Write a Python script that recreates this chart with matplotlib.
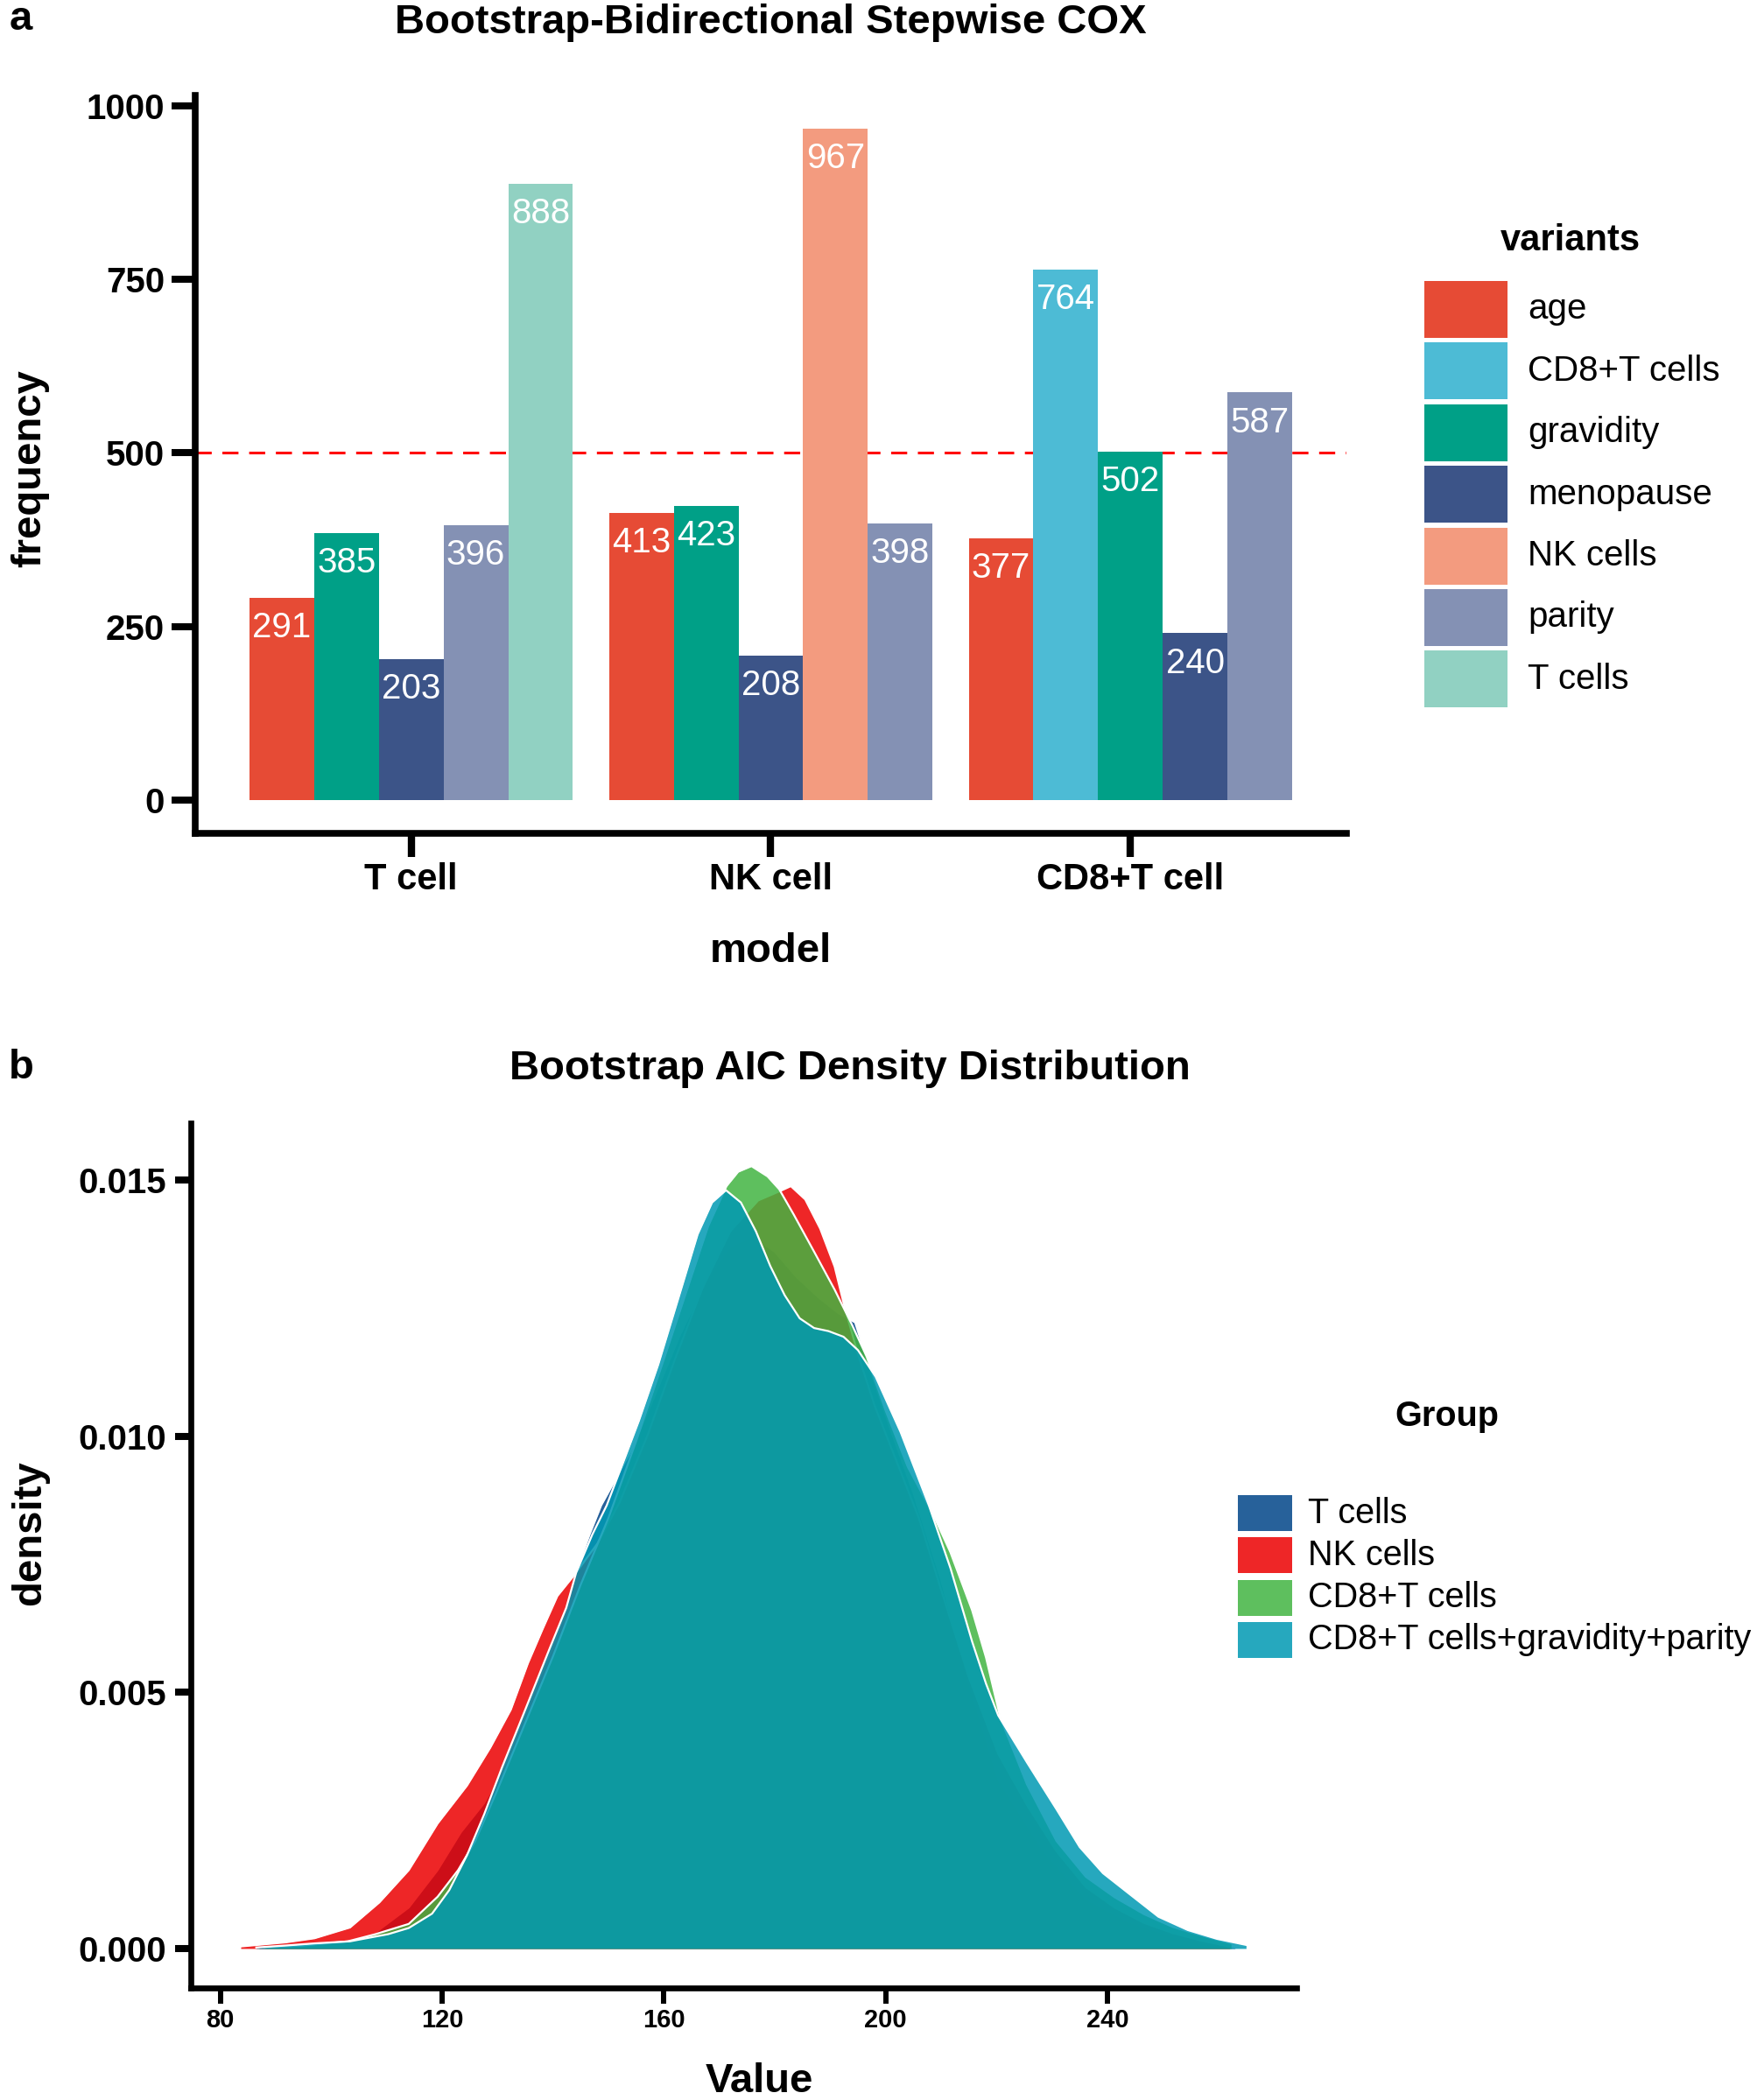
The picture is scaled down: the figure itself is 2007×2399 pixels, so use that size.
import matplotlib
matplotlib.use("Agg")
import matplotlib.pyplot as plt
from matplotlib.patches import Rectangle

plt.rcParams["font.family"] = ["Liberation Sans", "DejaVu Sans"]

W, H = 2008, 2399


def fx(px):
    return px / W


def fy(py):
    return 1 - py / H


# ---------------- panel a data
models = ["T cell", "NK cell", "CD8+T cell"]
variants = ["age", "CD8+T cells", "gravidity", "menopause", "NK cells", "parity", "T cells"]
variant_colors = ["#E64B35", "#4DBBD5", "#00A087", "#3C5488", "#F39B7F", "#8491B4", "#91D1C2"]

tcell_variants = ["age", "gravidity", "menopause", "parity", "T cells"]
tcell_freq = [291, 385, 203, 396, 888]
nkcell_variants = ["age", "gravidity", "menopause", "NK cells", "parity"]
nkcell_freq = [413, 423, 208, 967, 398]
cd8_variants = ["age", "CD8+T cells", "gravidity", "menopause", "parity"]
cd8_freq = [377, 764, 502, 240, 587]
threshold = 500

# ---------------- panel b data (density curves)
groups = ["T cells", "NK cells", "CD8+T cells", "CD8+T cells+gravidity+parity"]
group_colors = ["#014589", "#EB0001", "#42B442", "#0099B3"]

tc_x = [87, 95, 102, 107.6, 114.0, 119.2, 123.4, 127.6, 131, 135, 139.2, 142.4, 144.3, 146.6,
        148.7, 151, 154, 158, 163, 168, 172, 176, 180, 184, 188, 191.5, 194.5, 197.5, 201, 205,
        210, 215, 220.3, 228.2, 236.1, 244, 251.8, 258, 263]
tc_y = [0.00002, 0.00006, 0.00012, 0.00028, 0.0008, 0.00153, 0.00227, 0.00284, 0.0035, 0.0046,
        0.0057, 0.0066, 0.0074, 0.00808, 0.00865, 0.0091, 0.0097, 0.0107, 0.0120, 0.0131, 0.0137,
        0.0139, 0.0136, 0.0131, 0.0127, 0.0124, 0.01222, 0.0112, 0.0101, 0.0089, 0.0072, 0.0052,
        0.0033, 0.00194, 0.00097, 0.00051, 0.00023, 0.00008, 0.00002]

nk_x = [83.7, 91.8, 97.0, 103.4, 108.7, 114.0, 119.2, 124.5, 128.7, 132.4, 135.5, 138.2, 140.8,
        144.0, 148, 152, 157, 162, 167, 172, 177, 181.3, 182.9, 185.5, 188.2, 190.8, 192.6, 195,
        198, 202, 206, 210, 215, 220.3, 225.5, 230.8, 236.1, 241.3, 246.6, 251.8, 257.1, 262]
nk_y = [0.00004, 0.00012, 0.0002, 0.00041, 0.0009, 0.00153, 0.00244, 0.00318, 0.00392, 0.00466,
        0.00557, 0.00625, 0.00688, 0.00731, 0.0079, 0.0087, 0.0100, 0.0115, 0.0129, 0.0140, 0.0146,
        0.0148, 0.01488, 0.01462, 0.01405, 0.01331, 0.01252, 0.0116, 0.0106, 0.0095, 0.0084,
        0.0070, 0.0053, 0.0038, 0.0028, 0.0019, 0.0012, 0.0008, 0.0005, 0.0003, 0.00015, 0.00004]

cd8_x = [88, 95, 103, 108, 114.0, 119.2, 122.9, 126, 130, 135, 140, 145, 150, 155, 160, 164, 168,
         171.3, 173.4, 175.8, 178.7, 180.8, 183.4, 187.1, 190.8, 193.9, 196.6, 200, 204, 208.5,
         211.7, 215.6, 218.1, 220.7, 225.5, 230.8, 236.1, 241.3, 246.6, 251.8, 257.1, 262.3]
cd8_y = [0.00002, 0.00006, 0.00014, 0.00028, 0.00048, 0.00101, 0.00153, 0.0021, 0.0031, 0.0044,
         0.0057, 0.0071, 0.0084, 0.0099, 0.0115, 0.0128, 0.0141, 0.01488, 0.01516, 0.01527,
         0.01507, 0.01482, 0.01433, 0.0136, 0.01286, 0.01218, 0.01155, 0.0105, 0.0094, 0.00849,
         0.00773, 0.0066, 0.00568, 0.0045, 0.0032, 0.0021, 0.0014, 0.001, 0.00067, 0.00042,
         0.00025, 0.0001]

combo_x = [86.5, 92.0, 97.0, 103.4, 110.3, 114.0, 118.2, 121.3, 124.5, 127.6, 130.8, 135.0, 139.2,
           142.4, 144.2, 147.1, 149.7, 152.0, 155.5, 159.0, 163.4, 166.1, 168.7, 171.2, 173.9,
           176.6, 179.2, 181.8, 184.5, 187.1, 189.7, 192.4, 195.0, 198.2, 202.7, 207.8, 211.7,
           215.6, 218.1, 220.3, 225.5, 230.8, 235.0, 239.2, 243.9, 249.2, 254.5, 259.7, 265.0]
combo_y = [0.00002, 0.00006, 0.0001, 0.00014, 0.00028, 0.0004, 0.00068, 0.00114, 0.00182, 0.00262,
           0.00353, 0.00466, 0.0058, 0.00665, 0.00734, 0.00808, 0.00865, 0.0093, 0.0103, 0.0114,
           0.01297, 0.01394, 0.01456, 0.0148, 0.01456, 0.014, 0.01332, 0.01275, 0.0123, 0.01211,
           0.01205, 0.01194, 0.01168, 0.01116, 0.01008, 0.00865, 0.00742, 0.00599, 0.00517,
           0.00455, 0.00363, 0.00272, 0.00198, 0.00147, 0.00107, 0.00062, 0.00036, 0.00019, 0.00007]

fig = plt.figure(figsize=(W / 100, H / 100), dpi=100)

# ================= panel a
ax_a = fig.add_axes([fx(223), fy(952), (1538 - 223) / W, (952 - 109) / H])
color_of = dict(zip(variants, variant_colors))
bar_w = 0.18
for i, (vs, fs) in enumerate(zip([tcell_variants, nkcell_variants, cd8_variants],
                                 [tcell_freq, nkcell_freq, cd8_freq])):
    for j, (v, f) in enumerate(zip(vs, fs)):
        x = i + (j - 2) * bar_w
        ax_a.bar(x, f, width=bar_w, color=color_of[v], zorder=2)
        ax_a.annotate(str(f), (x, f), xytext=(0, -24.5), textcoords="offset points",
                      ha="center", va="center", color="white", fontsize=29, zorder=3)
ax_a.axhline(threshold, color="red", lw=2.2, ls=(0, (6, 4)), zorder=1)

ax_a.set_xlim(-0.6, 2.6)
ax_a.set_ylim(-48.35, 1015.35)
ax_a.set_xticks(range(len(models)))
ax_a.set_xticklabels(models, fontsize=30, fontweight="bold")
ax_a.set_yticks([0, 250, 500, 750, 1000])
ax_a.tick_params(axis="y", length=19.4, width=5.8, pad=5.8, labelsize=29)
ax_a.tick_params(axis="x", length=19.5, width=6, pad=4.5)
for lab in ax_a.get_yticklabels():
    lab.set_fontweight("bold")
ax_a.spines[["top", "right"]].set_visible(False)
ax_a.spines[["left", "bottom"]].set_linewidth(5.5)

fig.text(fx(880), fy(1087), "model", ha="center", va="center", fontsize=34, fontweight="bold")
fig.text(fx(34), fy(535), "frequency", ha="center", va="center", rotation=90,
         fontsize=34, fontweight="bold")
fig.text(fx(880), fy(26), "Bootstrap-Bidirectional Stepwise COX", ha="center", va="center",
         fontsize=34, fontweight="bold")
fig.text(fx(24), fy(22), "a", ha="center", va="center", fontsize=34, fontweight="bold")

# legend a
fig.text(fx(1794), fy(275), "variants", ha="center", va="center", fontsize=30, fontweight="bold")
for k, (v, c) in enumerate(zip(variants, variant_colors)):
    cy = 353.5 + k * 70.4
    fig.add_artist(Rectangle((fx(1627), fy(cy + 32.5)), 95 / W, 65 / H, facecolor=c,
                             edgecolor="none", transform=fig.transFigure))
    fig.text(fx(1745), fy(cy), v, ha="left", va="center", fontsize=29)

# ================= panel b
ax_b = fig.add_axes([fx(218), fy(2271), (1481 - 218) / W, (2271 - 1283) / H])
# each group: fill then its white outline, stacked in group order
for k, (xs, ys, c) in enumerate(zip([tc_x, nk_x, cd8_x, combo_x],
                                    [tc_y, nk_y, cd8_y, combo_y], group_colors)):
    ax_b.fill_between(xs, ys, 0, color=c, alpha=0.85, lw=0, zorder=2 + 2 * k)
    ax_b.plot(xs, ys, color="white", lw=1.6, zorder=3 + 2 * k, solid_joinstyle="round")

ax_b.set_xlim(74.7, 274.1)
ax_b.set_ylim(-0.00077, 0.01611)
ax_b.set_xticks([80, 120, 160, 200, 240])
ax_b.set_yticks([0, 0.005, 0.010, 0.015])
ax_b.set_yticklabels(["0.000", "0.005", "0.010", "0.015"])
ax_b.tick_params(axis="y", length=13.3, width=5.8, pad=6.7, labelsize=29)
ax_b.tick_params(axis="x", length=13, width=4.3, pad=3.5, labelsize=21)
for lab in ax_b.get_yticklabels() + ax_b.get_xticklabels():
    lab.set_fontweight("bold")
ax_b.spines[["top", "right"]].set_visible(False)
ax_b.spines[["left", "bottom"]].set_linewidth(4.8)
for sp in ax_b.spines.values():
    sp.set_zorder(20)

fig.text(fx(867), fy(2378), "Value", ha="center", va="center", fontsize=34, fontweight="bold")
fig.text(fx(34), fy(1751), "density", ha="center", va="center", rotation=90,
         fontsize=34, fontweight="bold")
fig.text(fx(971), fy(1221), "Bootstrap AIC Density Distribution", ha="center", va="center",
         fontsize=34, fontweight="bold")
fig.text(fx(24), fy(1220), "b", ha="center", va="center", fontsize=34, fontweight="bold")

# legend b
fig.text(fx(1653), fy(1618), "Group", ha="center", va="center", fontsize=28.5, fontweight="bold")
for k, (g, c) in enumerate(zip(groups, group_colors)):
    cy = 1728.5 + k * 48.3
    fig.add_artist(Rectangle((fx(1414), fy(cy + 20.5)), 62 / W, 41 / H, facecolor=c, alpha=0.85,
                             edgecolor="none", transform=fig.transFigure))
    fig.text(fx(1494), fy(cy), g, ha="left", va="center", fontsize=28.5)

fig.savefig("out.png", dpi=100)
